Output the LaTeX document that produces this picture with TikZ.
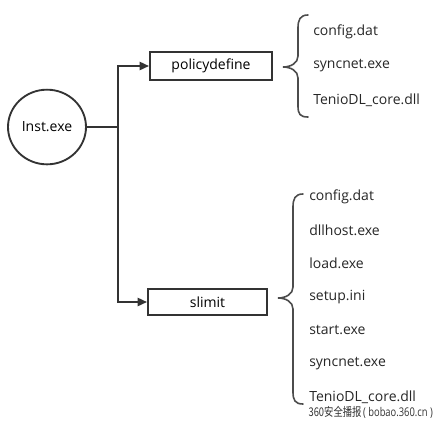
\documentclass[tikz,border=0pt]{standalone}
\usepackage{fontspec}
\setmainfont{Open Sans}
\newfontfamily\cjk{Noto Sans CJK SC}
\usetikzlibrary{shapes.geometric,arrows.meta}
\begin{document}
\begin{tikzpicture}[x=0.75pt,y=-0.75pt,
  line/.style={draw=black!80,line width=1.6pt},
  arr/.style={line,-{Triangle[length=7pt,width=6pt]}},
  boxnode/.style={draw=black!80,line width=1.4pt,rectangle,inner sep=0pt,font=\fontsize{10.5}{12}\selectfont},
  file/.style={anchor=west,inner sep=0pt,font=\fontsize{10.5}{12}\selectfont,text=black!85},
  bracepath/.style={draw=black!70,line width=1.2pt,line cap=round}]
\useasboundingbox (0,0) rectangle (437,430);
\node[ellipse,draw=black!80,line width=1.4pt,minimum width=58.5pt,minimum height=56pt,inner sep=0pt,font=\fontsize{10.5}{12}\selectfont] (inst) at (47,127) {Inst.exe};
\coordinate (j) at (118,127);
\node[boxnode,minimum width=91.5pt,minimum height=21pt] (pol) at (211,66) {policydefine};
\node[boxnode,minimum width=89.25pt,minimum height=19.5pt] (sli) at (207.5,302) {slimit};
\draw[line] (inst.east) -- (j);
\draw[arr] (j) |- (pol.west);
\draw[arr] (j) |- (sli.west);
% top brace
\draw[bracepath] (308,15) .. controls (300,15) and (298,20) .. (298,28) -- (298,56)
  .. controls (298,63) and (291,67) .. (283,67)
  .. controls (291,67) and (298,71) .. (298,78) -- (298,106)
  .. controls (298,114) and (300,117) .. (308,117);
% bottom brace
\draw[bracepath] (303,194) .. controls (295,194) and (293,199) .. (293,207) -- (293,287)
  .. controls (293,294) and (286,298) .. (278,298)
  .. controls (286,298) and (293,302) .. (293,309) -- (293,392)
  .. controls (293,400) and (295,404) .. (303,404);
\node[file] (a1) at (313,32) {config.dat};
\node[file] (a2) at (313,66) {syncnet.exe};
\node[file] (a3) at (313,100) {TenioDL\_core.dll};
\node[file] (b1) at (309,197) {config.dat};
\node[file] (b2) at (309,230) {dllhost.exe};
\node[file] (b3) at (309,263) {load.exe};
\node[file] (b4) at (309,297) {setup.ini};
\node[file] (b5) at (309,330) {start.exe};
\node[file] (b6) at (309,364) {syncnet.exe};
\node[file] (b7) at (309,397) {TenioDL\_core.dll};
\node[anchor=east,inner sep=0pt,xscale=0.78,transform shape,font=\fontsize{9}{10}\selectfont,text=black!80] (wm) at (433,412) {{\cjk 360安全播报}\,( bobao.360.cn )};
\end{tikzpicture}
\end{document}
